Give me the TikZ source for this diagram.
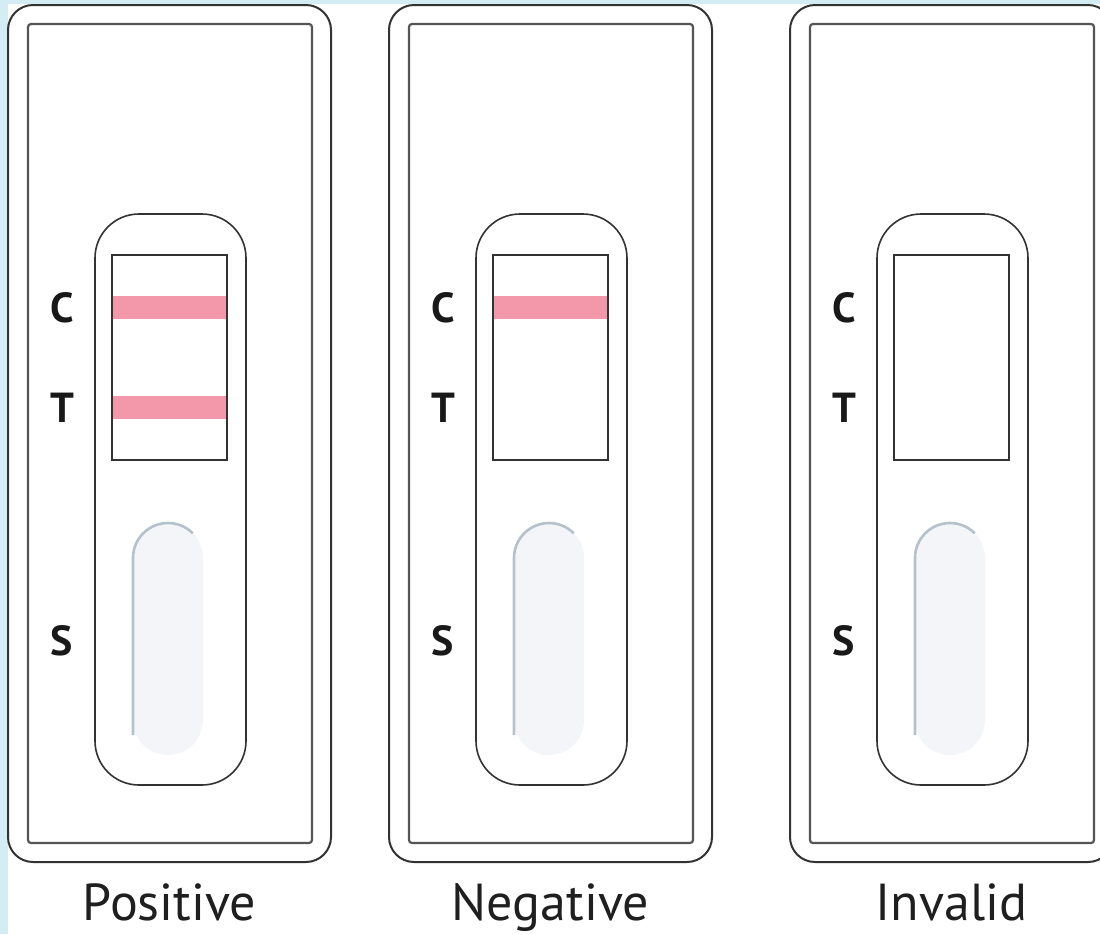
\documentclass[tikz,border=0pt]{standalone}
\usepackage{fontspec}
\setmainfont{PT Sans}
\definecolor{bgblue}{HTML}{D4ECF4}
\definecolor{pinkband}{HTML}{F397AA}
\definecolor{wellfill}{HTML}{F3F5F8}
\definecolor{welledge}{HTML}{B5C1CB}
\definecolor{outerline}{HTML}{333333}
\definecolor{innerline}{HTML}{555555}
\tikzset{
  outercard/.style={draw=outerline, line width=1pt, rounded corners=12.5pt, fill=white},
  innercard/.style={draw=innerline, line width=1.1pt, rounded corners=1.5pt},
  capsule/.style={draw=outerline, line width=0.8pt, rounded corners=22pt},
  window/.style={draw=outerline, line width=0.8pt},
  band/.style={fill=pinkband},
  well/.style={fill=wellfill, rounded corners=17.5pt},
  wellrim/.style={draw=welledge, line width=1.3pt},
  lbl/.style={font=\bfseries\fontsize{21}{21}\selectfont, text=black!90, anchor=center, inner sep=0pt},
  caption/.style={font=\fontsize{26}{26}\selectfont, text=black!88, anchor=base, inner sep=0pt}
}
\begin{document}
\begin{tikzpicture}[x=0.5pt,y=-0.5pt]
\useasboundingbox (0,0) rectangle (1100,934);
\fill[white] (0,0) rectangle (1100,934);
\fill[bgblue] (0,0) rectangle (8,934);
\fill[bgblue] (0,0) rectangle (1100,4);
\foreach \cx/\name/\cap in {8/pos/Positive, 389/neg/Negative, 790/inv/Invalid}{
  % outer card
  \draw[outercard] (\cx,5) rectangle ++(323,857);
  \draw[innercard] (\cx+20,24) rectangle ++(284,819);
  % capsule
  \draw[capsule] (\cx+87,214) rectangle ++(151,571);
  % reading window
  \draw[window] (\cx+104,255) rectangle ++(115,205);
  % sample well
  \fill[well] (\cx+125,523) rectangle ++(70,232);
  \draw[wellrim] (\cx+160,558) ++(-45:35) arc[start angle=-45, end angle=-180, radius=35] -- (\cx+125,735);
  % labels
  \node[lbl] (\name C) at (\cx+54,308) {C};
  \node[lbl] (\name T) at (\cx+54,408) {T};
  \node[lbl] (\name S) at (\cx+54,641) {S};
  \node[caption] (\name cap) at (\cx+161.5,920) {\cap};
}
% bands
\fill[band] (8+105,296) rectangle ++(113,23);
\fill[band] (8+105,396) rectangle ++(113,23);
\fill[band] (389+105,296) rectangle ++(113,23);
% redraw window borders over bands
\draw[window] (8+104,255) rectangle ++(115,205);
\draw[window] (389+104,255) rectangle ++(115,205);
\end{tikzpicture}
\end{document}
